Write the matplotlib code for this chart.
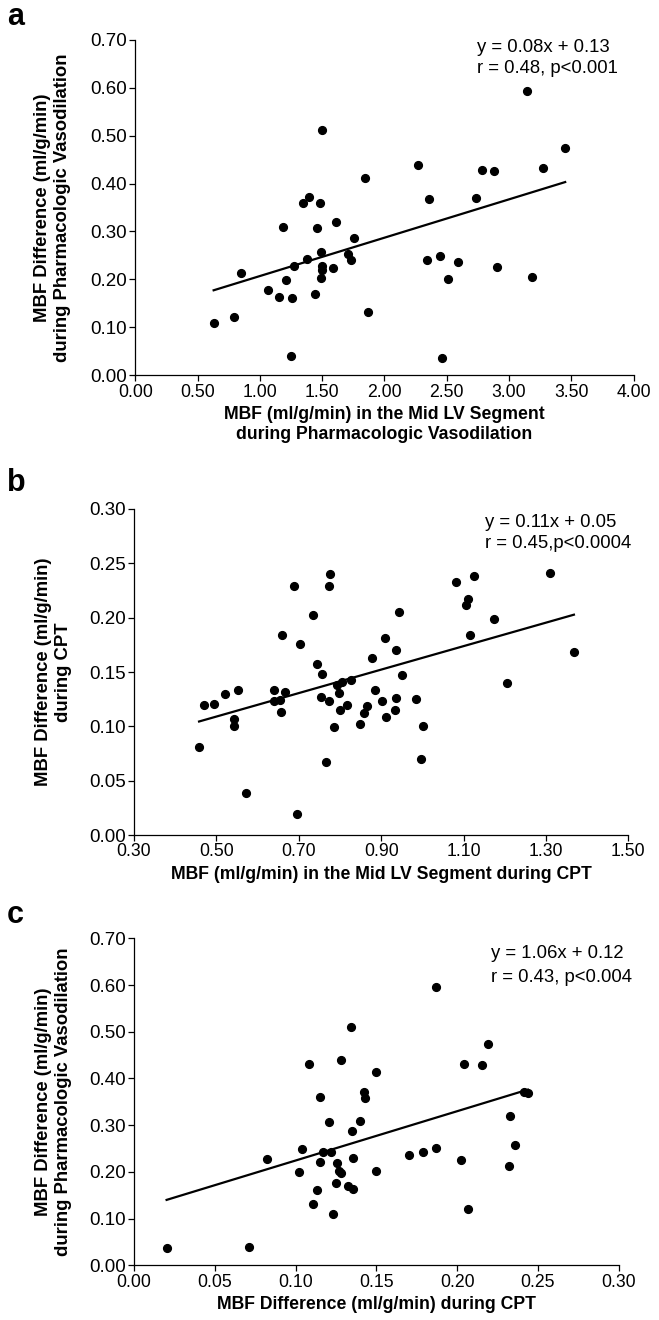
import numpy as np
import matplotlib
matplotlib.use('Agg')
import matplotlib.pyplot as plt

plt.rcParams['font.family'] = ['Liberation Sans', 'DejaVu Sans']

# Panel a: MBF during vasodilation vs MBF difference
a_x = [0.629, 0.795, 0.848, 1.062, 1.151, 1.212, 1.188, 1.258, 1.274, 1.247,
       1.343, 1.391, 1.381, 1.442, 1.458, 1.480, 1.488, 1.498, 1.498, 1.498,
       1.490, 1.587, 1.613, 1.705, 1.734, 1.755, 1.846, 1.868, 2.271, 2.360,
       2.343, 2.443, 2.464, 2.510, 2.590, 2.734, 2.780, 2.876, 2.906, 3.146,
       3.186, 3.270, 3.451]
a_y = [0.110, 0.122, 0.214, 0.178, 0.164, 0.199, 0.309, 0.162, 0.228, 0.041,
       0.360, 0.371, 0.242, 0.169, 0.307, 0.359, 0.258, 0.512, 0.228, 0.219,
       0.203, 0.223, 0.319, 0.254, 0.241, 0.287, 0.412, 0.133, 0.439, 0.368,
       0.241, 0.249, 0.037, 0.201, 0.236, 0.370, 0.429, 0.427, 0.226, 0.594,
       0.204, 0.432, 0.474]
a_fit = (0.080, 0.127)

# Panel b: MBF during CPT vs MBF difference during CPT
b_x = [0.458, 0.470, 0.495, 0.520, 0.552, 0.543, 0.542, 0.573, 0.640, 0.641,
       0.654, 0.667, 0.658, 0.659, 0.688, 0.695, 0.704, 0.734, 0.745, 0.756,
       0.755, 0.773, 0.775, 0.773, 0.765, 0.785, 0.792, 0.798, 0.799, 0.806,
       0.816, 0.827, 0.849, 0.858, 0.866, 0.878, 0.884, 0.902, 0.910, 0.912,
       0.933, 0.935, 0.936, 0.944, 0.951, 0.985, 0.997, 1.002, 1.081, 1.125,
       1.107, 1.110, 1.116, 1.174, 1.206, 1.311, 1.368]
b_y = [0.081, 0.120, 0.121, 0.130, 0.133, 0.107, 0.100, 0.039, 0.133, 0.123,
       0.124, 0.132, 0.113, 0.184, 0.229, 0.019, 0.176, 0.202, 0.157, 0.148,
       0.127, 0.123, 0.240, 0.229, 0.067, 0.099, 0.138, 0.131, 0.115, 0.141,
       0.120, 0.143, 0.102, 0.112, 0.119, 0.163, 0.133, 0.123, 0.181, 0.109,
       0.115, 0.170, 0.126, 0.205, 0.147, 0.125, 0.070, 0.100, 0.233, 0.238,
       0.212, 0.217, 0.184, 0.199, 0.140, 0.241, 0.168]
b_fit = (0.108, 0.055)

# Panel c: MBF difference during CPT vs during vasodilation
c_x = [0.0202, 0.0712, 0.0822, 0.1020, 0.1038, 0.1084, 0.1108, 0.1135, 0.1150,
       0.1154, 0.1170, 0.1209, 0.1220, 0.1234, 0.1249, 0.1255, 0.1267, 0.1280,
       0.1284, 0.1327, 0.1342, 0.1352, 0.1354, 0.1354, 0.1401, 0.1422, 0.1432,
       0.1496, 0.1500, 0.1701, 0.1787, 0.1870, 0.1872, 0.2023, 0.2041, 0.2070,
       0.2155, 0.2194, 0.2328, 0.2357, 0.2322, 0.2417, 0.2438]
c_y = [0.037, 0.040, 0.227, 0.201, 0.249, 0.432, 0.132, 0.161, 0.222, 0.360,
       0.242, 0.307, 0.242, 0.110, 0.177, 0.219, 0.203, 0.198, 0.440, 0.170,
       0.511, 0.287, 0.229, 0.164, 0.309, 0.371, 0.359, 0.413, 0.202, 0.236,
       0.242, 0.595, 0.252, 0.226, 0.430, 0.121, 0.429, 0.474, 0.319, 0.258,
       0.213, 0.371, 0.369]
c_fit = (1.055, 0.119)

fig = plt.figure(figsize=(6.59, 13.2), dpi=100)

panels = [
    dict(rect=[0.2053, 0.7157, 0.7561, 0.2542], x=a_x, y=a_y, fit=a_fit,
         xlim=(0, 4), xticks=np.arange(0, 4.01, 0.5), ylim=(0, 0.7),
         yticks=np.arange(0, 0.701, 0.1),
         xlabel='MBF (ml/g/min) in the Mid LV Segment\nduring Pharmacologic Vasodilation',
         ylabel='MBF Difference (ml/g/min)\nduring Pharmacologic Vasodilation',
         eq=['y = 0.08x + 0.13', 'r = 0.48, p<0.001'],
         eqpos=(0.685, 0.964, 0.902), letter='a', lpos=25, ylx=-0.166),
    dict(rect=[0.2033, 0.3674, 0.7501, 0.2470], x=b_x, y=b_y, fit=b_fit,
         xlim=(0.3, 1.5), xticks=np.arange(0.3, 1.51, 0.2), ylim=(0, 0.3),
         yticks=np.arange(0, 0.301, 0.05),
         xlabel='MBF (ml/g/min) in the Mid LV Segment during CPT',
         ylabel='MBF Difference (ml/g/min)\nduring CPT',
         eq=['y = 0.11x + 0.05', 'r = 0.45,p<0.0004'],
         eqpos=(0.710, 0.944, 0.879), letter='b', lpos=491, ylx=-0.163),
    dict(rect=[0.2033, 0.0413, 0.7355, 0.2479], x=c_x, y=c_y, fit=c_fit,
         xlim=(0, 0.3), xticks=np.arange(0, 0.301, 0.05), ylim=(0, 0.7),
         yticks=np.arange(0, 0.701, 0.1),
         xlabel='MBF Difference (ml/g/min) during CPT',
         ylabel='MBF Difference (ml/g/min)\nduring Pharmacologic Vasodilation',
         eq=['y = 1.06x + 0.12', 'r = 0.43, p<0.004'],
         eqpos=(0.736, 0.941, 0.867), letter='c', lpos=923, ylx=-0.166),
]

for p in panels:
    ax = fig.add_axes(p['rect'])
    ax.plot(p['x'], p['y'], 'o', color='black', markersize=5.6, zorder=3)
    xs = np.array([min(p['x']), max(p['x'])])
    ax.plot(xs, p['fit'][0] * xs + p['fit'][1], color='black', lw=1.6)

    ax.set_xlim(*p['xlim'])
    ax.set_ylim(*p['ylim'])
    ax.set_xticks(p['xticks'])
    ax.set_yticks(p['yticks'])
    ax.set_xticklabels(['%.2f' % v for v in p['xticks']])
    ax.set_yticklabels(['%.2f' % v for v in p['yticks']])
    for s in ['top', 'right']:
        ax.spines[s].set_visible(False)
    for s in ['left', 'bottom']:
        ax.spines[s].set_linewidth(0.9)
    ax.tick_params(direction='out', length=4, width=0.9)
    ax.tick_params(axis='x', pad=2, labelsize=12.7)
    ax.tick_params(axis='y', pad=2, labelsize=13.5)

    ax.set_xlabel(p['xlabel'], fontsize=12.7, fontweight='bold', labelpad=4,
                  linespacing=1.2)
    ax.set_ylabel(p['ylabel'], fontsize=13.3, fontweight='bold', va='center',
                  linespacing=1.25)
    ax.yaxis.set_label_coords(p['ylx'], 0.5)

    ex, ey1, ey2 = p['eqpos']
    ax.text(ex, ey1, p['eq'][0], transform=ax.transAxes, fontsize=13.3,
            va='baseline', ha='left')
    ax.text(ex, ey2, p['eq'][1], transform=ax.transAxes, fontsize=13.3,
            va='baseline', ha='left')

    fig.text(7 / 659, 1 - p['lpos'] / 1320, p['letter'], fontsize=22,
             fontweight='bold', va='baseline', ha='left')

fig.savefig('out.png', dpi=100)
